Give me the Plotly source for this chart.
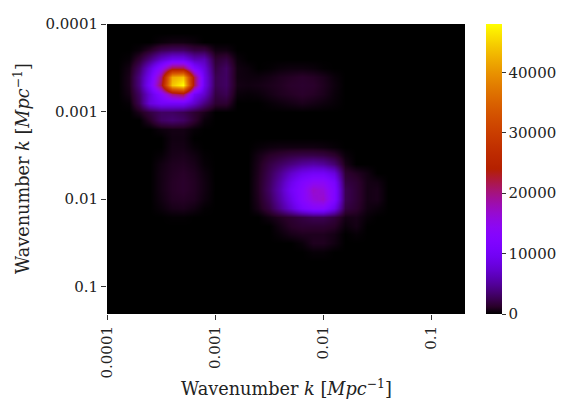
import numpy as np
import plotly.graph_objects as go

# Grid nodes: wavenumber k [Mpc^-1], 0.1-decade steps from 1e-4 to ~0.2
k_nodes = np.logspace(-4, -0.7, 34)

# tick labels
tick_vals_k = [1e-4, 1e-3, 1e-2, 1e-1]
tick_text = ["0.0001", "0.001", "0.01", "0.1"]
cbar_ticks = [0, 10000, 20000, 30000, 40000]

# Values (in thousands); rows = k on y axis (top = 1e-4), cols = k on x axis
power_thousands = [
    [0,0,0,0,0,0,0,0,0,0, 0,0,0,0,0,0,0,0,0,0, 0,0,0,0,0,0,0,0,0,0, 0,0,0,0],
    [0,0,0,0,0,0,0,0,0,0, 0,0,0,0,0,0,0,0,0,0, 0,0,0,0,0,0,0,0,0,0, 0,0,0,0],
    [0,0,0,0,0,.3,.5,.5,.3,0, 0,0,0,0,0,0,0,0,0,0, 0,0,0,0,0,0,0,0,0,0, 0,0,0,0],
    [0,0,0,.3,1.2,2.5,3,3,2,2, .5,.5,0,0,0,0,0,0,0,0, 0,0,0,0,0,0,0,0,0,0, 0,0,0,0],
    [0,0,.2,1.5,4,7,9,9,6,6, 1.5,2,.3,0,0,0,0,0,0,0, 0,0,0,0,0,0,0,0,0,0, 0,0,0,0],
    [0,0,.6,3,8,14,22,22,12,8, 2,3,.5,.3,0,.1,.3,.4,.4,.3, .1,0,0,0,0,0,0,0,0,0, 0,0,0,0],
    [0,0,.8,4,10,20,42,44,22,9, 2.5,3,.5,.4,.4,.6,.9,1.1,1.3,1.1, .8,.3,0,0,0,0,0,0,0,0, 0,0,0,0],
    [0,0,.8,4,11,22,44,48,22,9, 2.5,3,.6,.5,.6,.8,1,1.3,1.4,1.3, .9,.4,0,0,0,0,0,0,0,0, 0,0,0,0],
    [0,0,.6,3,8,13,20,22,10,7, 2,2.5,.3,.2,.3,.6,.9,1.1,1.3,1.1, .8,.3,0,0,0,0,0,0,0,0, 0,0,0,0],
    [0,0,.2,2.5,8,10,10,10,7,4, 1.5,1.5,0,0,0,.2,.4,.6,.8,.6, .4,.2,0,0,0,0,0,0,0,0, 0,0,0,0],
    [0,0,0,.8,2,3,3,2.5,1.5,.8, 0,0,0,0,0,0,0,0,0,0, 0,0,0,0,0,0,0,0,0,0, 0,0,0,0],
    [0,0,0,0,1.2,3,3.5,3,1.5,.3, 0,0,0,0,0,0,0,0,0,0, 0,0,0,0,0,0,0,0,0,0, 0,0,0,0],
    [0,0,0,0,0,.4,.6,.6,.2,0, 0,0,0,0,0,0,0,0,0,0, 0,0,0,0,0,0,0,0,0,0, 0,0,0,0],
    [0,0,0,0,0,0,.5,.5,0,0, 0,0,0,0,0,0,0,0,0,0, 0,0,0,0,0,0,0,0,0,0, 0,0,0,0],
    [0,0,0,0,0,0,.6,.6,.2,0, 0,0,0,0,.2,.4,.5,.5,.5,.5, .4,.2,0,0,0,0,0,0,0,0, 0,0,0,0],
    [0,0,0,0,0,.2,.7,.8,.5,.1, 0,0,0,0,.6,1.2,1.6,2,2.2,2.2, 2,1.4,.3,0,0,0,0,0,0,0, 0,0,0,0],
    [0,0,0,0,0,.5,.9,1,.7,.2, 0,0,0,0,.8,2,3,4,5,5.5, 5,3.5,.7,0,0,0,0,0,0,0, 0,0,0,0],
    [0,0,0,0,0,.6,1,1.2,.9,.4, 0,0,0,0,.9,2.5,4.5,7,9,10, 10,8,1.5,1,.5,0,0,0,0,0, 0,0,0,0],
    [0,0,0,0,0,.6,1.1,1.3,1,.5, 0,0,0,0,1,2.8,5.5,9,12,14, 14,11,2,1.5,.6,.5,0,0,0,0, 0,0,0,0],
    [0,0,0,0,0,.6,1.1,1.3,1,.5, 0,0,0,0,1,3,6,10,13,17, 16,12,2.5,1.6,.6,.7,0,0,0,0, 0,0,0,0],
    [0,0,0,0,0,.5,1,1.1,.9,.4, 0,0,0,0,.9,2.6,5.5,9,13,16, 17,12,2.5,1.6,.6,.7,0,0,0,0, 0,0,0,0],
    [0,0,0,0,0,.3,.7,.8,.5,.1, 0,0,0,0,.7,2,4.5,7.5,11,13, 13,9,2,1.4,.5,.3,0,0,0,0, 0,0,0,0],
    [0,0,0,0,0,0,.1,.1,0,0, 0,0,0,0,0,.5,1,1.5,2,2.5, 2.5,1.8,.6,.7,.2,0,0,0,0,0, 0,0,0,0],
    [0,0,0,0,0,0,0,0,0,0, 0,0,0,0,0,0,.6,1.2,1.5,1.5, 1.5,1.2,.3,.6,0,0,0,0,0,0, 0,0,0,0],
    [0,0,0,0,0,0,0,0,0,0, 0,0,0,0,0,0,.3,.7,.9,.9, .9,.6,0,.2,0,0,0,0,0,0, 0,0,0,0],
    [0,0,0,0,0,0,0,0,0,0, 0,0,0,0,0,0,0,0,.3,.9, .9,.5,0,0,0,0,0,0,0,0, 0,0,0,0],
    [0,0,0,0,0,0,0,0,0,0, 0,0,0,0,0,0,0,0,0,.2, .2,0,0,0,0,0,0,0,0,0, 0,0,0,0],
    [0,0,0,0,0,0,0,0,0,0, 0,0,0,0,0,0,0,0,0,0, 0,0,0,0,0,0,0,0,0,0, 0,0,0,0],
    [0,0,0,0,0,0,0,0,0,0, 0,0,0,0,0,0,0,0,0,0, 0,0,0,0,0,0,0,0,0,0, 0,0,0,0],
    [0,0,0,0,0,0,0,0,0,0, 0,0,0,0,0,0,0,0,0,0, 0,0,0,0,0,0,0,0,0,0, 0,0,0,0],
    [0,0,0,0,0,0,0,0,0,0, 0,0,0,0,0,0,0,0,0,0, 0,0,0,0,0,0,0,0,0,0, 0,0,0,0],
    [0,0,0,0,0,0,0,0,0,0, 0,0,0,0,0,0,0,0,0,0, 0,0,0,0,0,0,0,0,0,0, 0,0,0,0],
    [0,0,0,0,0,0,0,0,0,0, 0,0,0,0,0,0,0,0,0,0, 0,0,0,0,0,0,0,0,0,0, 0,0,0,0],
    [0,0,0,0,0,0,0,0,0,0, 0,0,0,0,0,0,0,0,0,0, 0,0,0,0,0,0,0,0,0,0, 0,0,0,0],
]
for r in power_thousands:
    assert len(r) == 34
assert len(power_thousands) == 34

z = np.array(power_thousands) * 1000.0
logk = np.log10(k_nodes)

# gnuplot colormap (matplotlib): r=sqrt(x), g=x^3, b=sin(2*pi*x)
stops = np.linspace(0, 1, 41)
gnuplot = []
for s in stops:
    r = np.sqrt(s)
    g = s ** 3
    b = max(0.0, np.sin(2 * np.pi * s))
    gnuplot.append([float(s), f"rgb({int(round(r*255))},{int(round(g*255))},{int(round(b*255))})"])

FONT = "DejaVu Serif"

fig = go.Figure(go.Heatmap(
    x=logk, y=logk, z=z,
    zmin=0, zmax=48000,
    colorscale=gnuplot,
    zsmooth="best",
    colorbar=dict(
        thickness=16, len=1.0, lenmode="fraction", y=0.5, yanchor="middle",
        xref="container", x=486 / 566, xanchor="left", xpad=0, ypad=0, outlinewidth=0,
        tickvals=cbar_ticks, tickformat="d", ticks="outside", ticklen=4, tickwidth=1,
        tickcolor="#333", tickfont=dict(family=FONT, size=15, color="#222"),
    ),
    hoverinfo="skip",
))

axis_common = dict(
    tickvals=list(np.log10(tick_vals_k)), ticktext=tick_text,
    ticks="outside", ticklen=5, tickwidth=1, tickcolor="#333",
    showgrid=False, zeroline=False, showline=False,
    tickfont=dict(family=FONT, size=15, color="#222"),
)
fig.update_xaxes(range=[-4, -0.69], tickangle=-90, **axis_common)
fig.update_yaxes(range=[-0.69, -4], **axis_common)

title_text = "Wavenumber <i>k</i> [<i>Mpc</i><sup>−1</sup>]"
fig.update_layout(
    width=566, height=412,
    margin=dict(l=107, r=101, t=24, b=98),
    paper_bgcolor="white", plot_bgcolor="black",
    font=dict(family=FONT, color="#222"),
    annotations=[
        dict(text=title_text, xref="paper", yref="paper", x=0.5, y=0,
             xanchor="center", yanchor="middle", yshift=-73, showarrow=False,
             font=dict(family=FONT, size=17.7, color="#222")),
        dict(text=title_text, xref="paper", yref="paper", x=0, y=0.5,
             xanchor="center", yanchor="middle", xshift=-86, textangle=-90,
             showarrow=False, font=dict(family=FONT, size=17.7, color="#222")),
    ],
)

fig.write_html("out.html", config={"displayModeBar": False},
               post_script="document.body.style.margin='0px';document.body.style.overflow='hidden';")
